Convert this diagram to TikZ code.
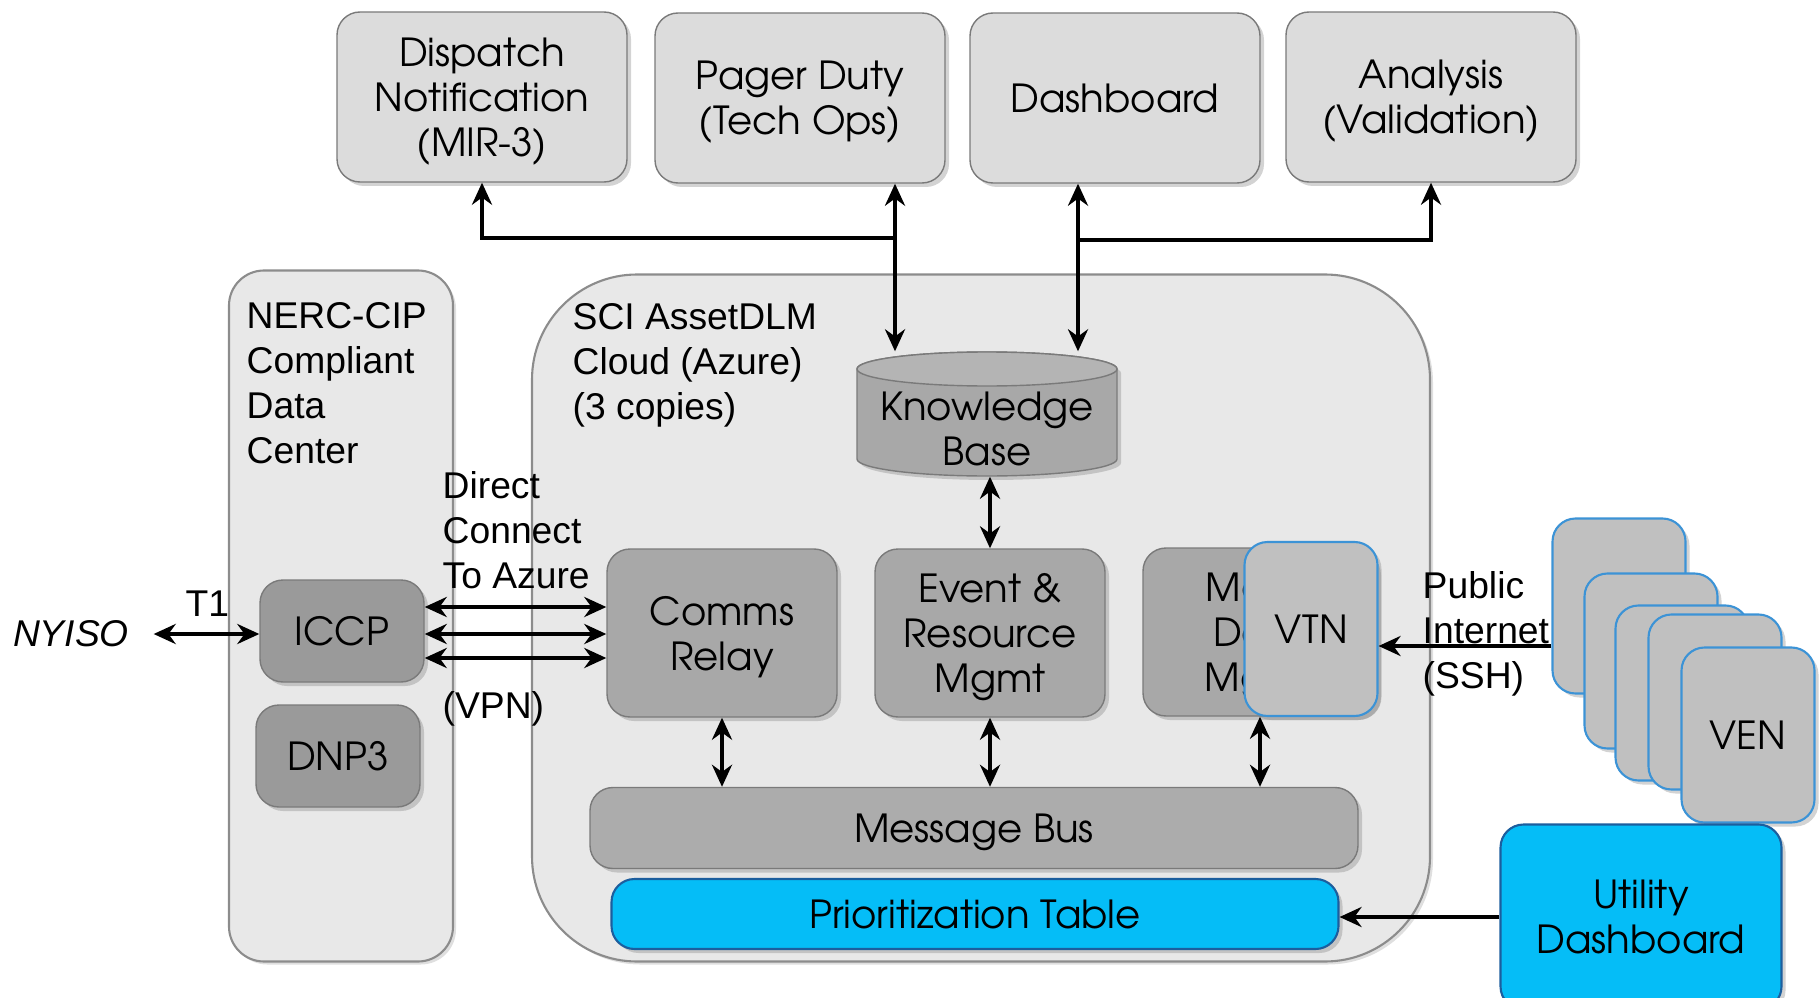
\documentclass[tikz,border=0pt]{standalone}
\usepackage{fontspec}
\setmainfont{Liberation Sans}
\newfontfamily\gothic{TeX Gyre Adventor}
\usetikzlibrary{arrows.meta,shadows}

\definecolor{zonefill}{HTML}{E8E8E8}
\definecolor{zoneline}{HTML}{8C8C8C}
\definecolor{topfill}{HTML}{DCDCDC}
\definecolor{boxline}{HTML}{7A7A7A}
\definecolor{modfill}{HTML}{A8A8A8}
\definecolor{protofill}{HTML}{9A9A9A}
\definecolor{kbtop}{HTML}{B4B4B4}
\definecolor{oadrfill}{HTML}{C0C0C0}
\definecolor{oadrline}{HTML}{3C93D6}
\definecolor{cyanfill}{HTML}{05BDF7}
\definecolor{cyanline}{HTML}{1C5E9E}

\tikzset{
  base/.style={rounded corners=2.3mm, align=center, text depth=0pt, font=\gothic\fontsize{11}{12.8}\selectfont,
    drop shadow={shadow xshift=.4mm, shadow yshift=-.4mm, opacity=.35}},
  topbox/.style={base, draw=boxline, fill=topfill, minimum width=29mm, minimum height=17mm},
  module/.style={base, draw=boxline, fill=modfill, minimum width=23mm, minimum height=16.8mm},
  proto/.style={module, fill=protofill, minimum width=16.4mm, minimum height=10.2mm},
  oadr/.style={base, draw=oadrline, line width=.6pt, fill=oadrfill, minimum width=13.3mm, minimum height=17.5mm},
  cyanbox/.style={base, draw=cyanline, line width=.6pt, fill=cyanfill},
  zone/.style={draw=zoneline, fill=zonefill, line width=.6pt,
    drop shadow={shadow xshift=.3mm, shadow yshift=-.3mm, opacity=.25}},
  lbl/.style={align=left, inner sep=0pt, font=\fontsize{10.6}{12.8}\selectfont},
  dbl/.style={{Stealth[length=2.2mm, width=2mm]}-{Stealth[length=2.2mm, width=2mm]}, line width=1.2pt},
  arr/.style={-{Stealth[length=2.2mm, width=2mm]}, line width=1.2pt},
}

\begin{document}
\begin{tikzpicture}[x=.1mm, y=-.1mm]
\useasboundingbox (0,0) rectangle (1820,998);

% consumers on top
\node[topbox] (dispatch) at (482,97) {Dispatch\\Notification\\(MIR-3)};
\node[topbox] (pager) at (800,98) {Pager Duty\\(Tech Ops)};
\node[topbox] (dash) at (1115,98) {Dashboard};
\node[topbox] (analysis) at (1431,97) {Analysis\\(Validation)};

% zones
\node[zone, rounded corners=3.5mm, minimum width=22.4mm, minimum height=69.1mm] (nerc) at (341,616) {};
\node[zone, rounded corners=10.5mm, minimum width=89.8mm, minimum height=68.7mm] (cloud) at (981,618) {};
\node[lbl, anchor=west] (nerclbl) at (246,383) {NERC-CIP\\Compliant\\Data\\Center};
\node[lbl, anchor=west] (cloudlbl) at (572,365) {SCI AssetDLM\\Cloud (Azure)\\(3 copies)};

% data center
\node[proto] (iccp) at (342,631) {ICCP};
\node[proto] (dnp) at (338,756) {DNP3};
\node[lbl, font=\itshape\fontsize{10.6}{12.8}\selectfont] (nyiso) at (71,634) {NYISO};

% knowledge base
\path[draw=boxline, fill=modfill, drop shadow={shadow xshift=.4mm, shadow yshift=-.4mm, opacity=.35}]
  (857,369) -- (857,459) arc[start angle=180, end angle=360, x radius=13mm, y radius=1.7mm]
  -- (1117,369) arc[start angle=0, end angle=180, x radius=13mm, y radius=1.7mm] -- cycle;
\draw[boxline, fill=kbtop] (987,369) ellipse[x radius=13mm, y radius=1.7mm];
\node[minimum width=26mm, minimum height=12.4mm, inner sep=0pt] (kb) at (987,414) {};
\node[align=center, font=\gothic\fontsize{11}{12.8}\selectfont] (kbtxt) at (987,429) {Knowledge\\Base};

% cloud modules
\node[module] (comms) at (722,633) {Comms\\Relay};
\node[module] (event) at (990,633) {Event \&\\Resource\\Mgmt};
\node[module, minimum width=23.4mm] (mdm) at (1260,632) {Meter\\Data\\Mgmt};
\node[oadr, minimum height=17.4mm] (vtn) at (1311,629) {VTN};
\node[module, fill=modfill!95!white, minimum width=76.8mm, minimum height=8.1mm] (bus) at (974,828) {Message Bus};
\node[cyanbox, minimum width=72.7mm, minimum height=7mm] (prio) at (975,914) {Prioritization Table};

% VEN stack
\node[oadr] (ven1) at (1619,606) {};
\node[oadr] (ven2) at (1651,661) {};
\node[oadr] (ven3) at (1682,693) {};
\node[oadr] (ven4) at (1715,702) {};
\node[oadr] (ven5) at (1748,735) {VEN};
\node[cyanbox, minimum width=28.1mm, minimum height=18.5mm] (util) at (1641,917) {Utility\\Dashboard};

% top connectors
\coordinate (pgx) at (895,0);
\coordinate (dbx) at (1078,0);
\coordinate (jl) at (895,238);
\coordinate (jr) at (1078,240);
\draw[dbl] (pgx |- kb.north) -- (pgx |- pager.south);
\draw[arr] (jl) -| (dispatch.south);
\draw[dbl] (dbx |- kb.north) -- (dbx |- dash.south);
\draw[arr] (jr) -| (analysis.south);

% inner connectors
\draw[dbl] (kb.south -| event.north) -- (event.north);
\draw[dbl] (comms.south) -- (comms.south |- bus.north);
\draw[dbl] (event.south) -- (event.south |- bus.north);
\draw[dbl] (mdm.south) -- (mdm.south |- bus.north);

% ICCP links
\draw[dbl, shorten <=2.4mm] (nyiso.east) -- (iccp.west |- nyiso.east) node[pos=.6, above=.4mm, font=\fontsize{10.6}{12.8}\selectfont] (t1) {T1};
\foreach \y in {607,634,658}
  \draw[dbl] (iccp.east |- 0,\y) -- (comms.west |- 0,\y);
\node[lbl, anchor=west] (direct) at (442,530) {Direct\\Connect\\To Azure};
\node[lbl, anchor=west] (vpn) at (442,709) {(VPN)};

% outside links
\draw[arr] (ven1.west |- 0,646) -- (vtn.east |- 0,646);
\node[lbl, anchor=west] (inet) at (1422,634) {Public\\Internet\\(SSH)};
\draw[arr] (util.west) -- (prio.east |- util.west);
\end{tikzpicture}
\end{document}
